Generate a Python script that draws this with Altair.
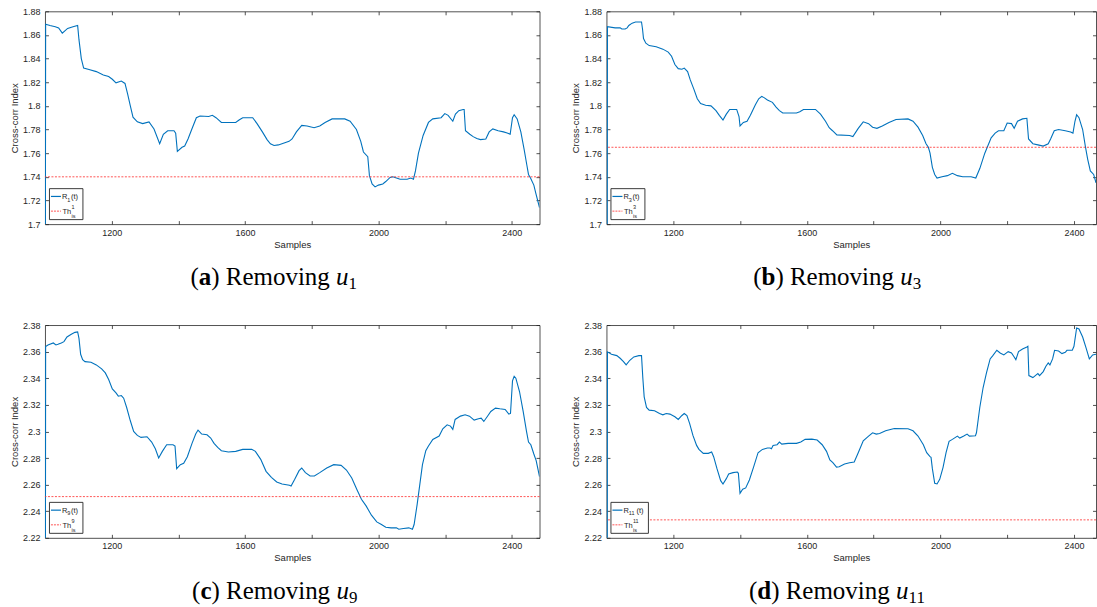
import altair as alt
import pandas as pd

# ---------------- data ----------------
X_LABELS = [1200, 1600, 2000, 2400]
X_TICKS = [1200, 1400, 1600, 1800, 2000, 2200, 2400]
Y_TICKS_TOP = [1.70, 1.72, 1.74, 1.76, 1.78, 1.80, 1.82, 1.84, 1.86, 1.88]
Y_TICKS_BOT = [2.22, 2.24, 2.26, 2.28, 2.30, 2.32, 2.34, 2.36, 2.38]

# (a) removing u1
X_A = [1001, 1002, 1015, 1031, 1041, 1052, 1068, 1084, 1098, 1102,
       1109, 1116, 1132, 1154, 1175, 1191, 1202, 1213, 1229, 1240,
       1248, 1256, 1264, 1277, 1293, 1312, 1327, 1344, 1355, 1368,
       1387, 1392, 1397, 1411, 1419, 1429, 1440, 1454, 1465, 1491,
       1502, 1513, 1529, 1572, 1582, 1593, 1623, 1636, 1652, 1666,
       1676, 1687, 1700, 1732, 1741, 1754, 1770, 1786, 1807, 1824,
       1840, 1861, 1899, 1915, 1934, 1947, 1955, 1968, 1973, 1981,
       1990, 2000, 2013, 2022, 2035, 2043, 2054, 2065, 2086, 2097,
       2105, 2111, 2120, 2134, 2150, 2163, 2188, 2199, 2209, 2223,
       2231, 2241, 2254, 2257, 2261, 2274, 2284, 2295, 2306, 2322,
       2332, 2343, 2359, 2375, 2386, 2395, 2402, 2407, 2416, 2427,
       2437, 2445, 2450, 2456, 2466, 2472, 2483]
Y_A = [1.60, 1.869, 1.868, 1.867, 1.866, 1.8615, 1.8655, 1.867, 1.868, 1.856,
       1.840, 1.832, 1.8308, 1.829, 1.8262, 1.8248, 1.8225, 1.8195, 1.821, 1.819,
       1.810, 1.800, 1.7905, 1.7865, 1.785, 1.7865, 1.7805, 1.768, 1.776, 1.779,
       1.779, 1.777, 1.7615, 1.765, 1.766, 1.772, 1.780, 1.790, 1.7915, 1.791,
       1.792, 1.790, 1.786, 1.786, 1.788, 1.790, 1.790, 1.785, 1.778, 1.7715,
       1.768, 1.7665, 1.767, 1.770, 1.772, 1.778, 1.7835, 1.783, 1.7815, 1.783,
       1.786, 1.789, 1.789, 1.787, 1.780, 1.770, 1.761, 1.757, 1.741, 1.734,
       1.7315, 1.733, 1.734, 1.736, 1.7395, 1.740, 1.739, 1.738, 1.738, 1.739,
       1.738, 1.745, 1.760, 1.775, 1.786, 1.789, 1.790, 1.7935, 1.792, 1.787,
       1.793, 1.796, 1.797, 1.797, 1.779, 1.776, 1.774, 1.7725, 1.7715, 1.772,
       1.778, 1.7805, 1.779, 1.778, 1.777, 1.776, 1.790, 1.7925, 1.789, 1.778,
       1.763, 1.750, 1.742, 1.739, 1.733, 1.726, 1.714]
TH_A = 1.740

# (b) removing u3
X_B = [1002, 1003, 1026, 1041, 1046, 1056, 1062, 1067, 1077, 1087,
       1105, 1108, 1111, 1118, 1128, 1149, 1169, 1185, 1195, 1205,
       1215, 1226, 1233, 1243, 1251, 1262, 1272, 1282, 1297, 1313,
       1328, 1338, 1349, 1359, 1369, 1390, 1397, 1400, 1410, 1421,
       1431, 1446, 1456, 1465, 1472, 1482, 1497, 1508, 1518, 1528,
       1569, 1579, 1590, 1626, 1641, 1656, 1667, 1677, 1690, 1728,
       1738, 1754, 1769, 1785, 1797, 1810, 1826, 1846, 1867, 1903,
       1918, 1933, 1947, 1957, 1964, 1969, 1976, 1983, 1990, 2005,
       2021, 2036, 2051, 2067, 2092, 2106, 2118, 2133, 2152, 2164,
       2174, 2190, 2200, 2213, 2221, 2231, 2246, 2259, 2264, 2277,
       2292, 2308, 2323, 2330, 2341, 2354, 2374, 2390, 2397, 2403,
       2408, 2415, 2426, 2434, 2441, 2449, 2459, 2466]
Y_B = [1.60, 1.867, 1.866, 1.866, 1.865, 1.865, 1.866, 1.868, 1.870, 1.871,
       1.871, 1.865, 1.857, 1.853, 1.851, 1.850, 1.848, 1.8455, 1.842, 1.835,
       1.8315, 1.831, 1.832, 1.829, 1.822, 1.814, 1.806, 1.802, 1.8005, 1.800,
       1.796, 1.792, 1.788, 1.793, 1.797, 1.797, 1.791, 1.783, 1.786, 1.787,
       1.792, 1.801, 1.806, 1.808, 1.807, 1.805, 1.803, 1.799, 1.796, 1.794,
       1.794, 1.795, 1.797, 1.797, 1.793, 1.787, 1.7815, 1.779, 1.7755, 1.775,
       1.774, 1.781, 1.7865, 1.785, 1.782, 1.781, 1.783, 1.786, 1.7885, 1.789,
       1.787, 1.782, 1.775, 1.768, 1.765, 1.760, 1.748, 1.742, 1.739, 1.740,
       1.741, 1.743, 1.741, 1.740, 1.740, 1.739, 1.747, 1.760, 1.773, 1.777,
       1.779, 1.779, 1.7855, 1.785, 1.781, 1.787, 1.789, 1.7895, 1.772, 1.768,
       1.767, 1.766, 1.768, 1.772, 1.779, 1.780, 1.779, 1.778, 1.777, 1.787,
       1.7925, 1.790, 1.780, 1.766, 1.755, 1.745, 1.742, 1.735]
TH_B = 1.765

# (c) removing u9
X_C = [1001, 1002, 1009, 1025, 1033, 1039, 1049, 1057, 1066, 1079,
       1090, 1098, 1102, 1107, 1113, 1120, 1138, 1154, 1170, 1181,
       1191, 1202, 1213, 1220, 1229, 1236, 1245, 1256, 1266, 1277,
       1288, 1306, 1320, 1331, 1341, 1352, 1365, 1384, 1390, 1395,
       1406, 1416, 1427, 1441, 1452, 1459, 1470, 1486, 1497, 1507,
       1518, 1529, 1550, 1572, 1593, 1620, 1631, 1647, 1663, 1679,
       1695, 1711, 1733, 1738, 1749, 1762, 1770, 1781, 1795, 1808,
       1824, 1845, 1866, 1888, 1904, 1920, 1936, 1949, 1963, 1979,
       1995, 2009, 2022, 2038, 2054, 2061, 2075, 2091, 2102, 2107,
       2116, 2124, 2132, 2142, 2150, 2163, 2182, 2193, 2206, 2216,
       2223, 2230, 2246, 2260, 2273, 2287, 2300, 2308, 2316, 2326,
       2337, 2351, 2364, 2380, 2391, 2396, 2402, 2407, 2412, 2423,
       2434, 2444, 2450, 2457, 2466, 2473, 2483]
Y_C = [2.10, 2.3638, 2.365, 2.3665, 2.365, 2.3655, 2.3665, 2.3675, 2.371, 2.373,
       2.3745, 2.3748, 2.370, 2.358, 2.354, 2.3525, 2.352, 2.350, 2.347, 2.344,
       2.339, 2.332, 2.329, 2.3265, 2.327, 2.325, 2.318, 2.308, 2.300, 2.297,
       2.2955, 2.296, 2.292, 2.287, 2.280, 2.285, 2.290, 2.290, 2.289, 2.272,
       2.275, 2.276, 2.281, 2.291, 2.298, 2.301, 2.298, 2.2975, 2.295, 2.291,
       2.288, 2.2855, 2.2845, 2.285, 2.2865, 2.2865, 2.285, 2.279, 2.270, 2.2655,
       2.262, 2.2605, 2.2595, 2.259, 2.264, 2.2705, 2.2725, 2.269, 2.2665, 2.2665,
       2.269, 2.2725, 2.275, 2.2745, 2.271, 2.265, 2.256, 2.249, 2.244, 2.237,
       2.232, 2.230, 2.228, 2.2275, 2.2275, 2.2265, 2.227, 2.2275, 2.2265, 2.230,
       2.245, 2.260, 2.275, 2.2855, 2.289, 2.294, 2.2965, 2.302, 2.305, 2.304,
       2.3015, 2.309, 2.3115, 2.3125, 2.3115, 2.3085, 2.3095, 2.310, 2.3075, 2.311,
       2.315, 2.3175, 2.317, 2.3165, 2.313, 2.3135, 2.338, 2.3415, 2.340, 2.330,
       2.315, 2.300, 2.292, 2.290, 2.283, 2.278, 2.266]
TH_C = 2.251

# (d) removing u11
X_D = [1002, 1003, 1015, 1031, 1041, 1051, 1059, 1070, 1082, 1097,
       1105, 1109, 1113, 1120, 1128, 1144, 1159, 1169, 1179, 1190,
       1205, 1215, 1226, 1233, 1241, 1249, 1259, 1270, 1277, 1290,
       1305, 1315, 1321, 1331, 1342, 1349, 1359, 1366, 1379, 1392,
       1395, 1400, 1408, 1417, 1428, 1441, 1454, 1467, 1482, 1490,
       1494, 1499, 1511, 1518, 1525, 1544, 1569, 1582, 1595, 1615,
       1631, 1646, 1659, 1669, 1678, 1689, 1697, 1713, 1728, 1742,
       1754, 1769, 1785, 1797, 1808, 1818, 1836, 1862, 1903, 1918,
       1933, 1949, 1959, 1969, 1972, 1976, 1983, 1990, 1998, 2008,
       2017, 2026, 2036, 2051, 2058, 2070, 2080, 2087, 2105, 2108,
       2118, 2128, 2138, 2149, 2157, 2169, 2179, 2190, 2203, 2213,
       2221, 2226, 2234, 2246, 2259, 2262, 2265, 2277, 2287, 2292,
       2297, 2308, 2316, 2323, 2328, 2336, 2342, 2354, 2364, 2374,
       2379, 2395, 2400, 2408, 2415, 2426, 2436, 2446, 2456, 2466]
Y_D = [2.10, 2.3598, 2.358, 2.357, 2.355, 2.3525, 2.350, 2.3535, 2.356, 2.357,
       2.357, 2.340, 2.326, 2.318, 2.316, 2.3155, 2.3135, 2.3125, 2.3135, 2.313,
       2.311, 2.309, 2.312, 2.3135, 2.312, 2.306, 2.297, 2.2895, 2.2865, 2.2835,
       2.2835, 2.2845, 2.281, 2.272, 2.263, 2.2605, 2.2645, 2.268, 2.269, 2.2695,
       2.2685, 2.2535, 2.2565, 2.2575, 2.2635, 2.2735, 2.284, 2.2865, 2.2875, 2.2875,
       2.287, 2.2895, 2.290, 2.292, 2.2905, 2.291, 2.291, 2.292, 2.294, 2.2942,
       2.2935, 2.290, 2.285, 2.2785, 2.2765, 2.2732, 2.2735, 2.2755, 2.2765, 2.277,
       2.284, 2.293, 2.2965, 2.299, 2.298, 2.2985, 2.3005, 2.3022, 2.302, 2.3005,
       2.2965, 2.290, 2.284, 2.281, 2.2805, 2.272, 2.261, 2.2605, 2.264, 2.273,
       2.284, 2.2925, 2.294, 2.2965, 2.295, 2.2965, 2.298, 2.2965, 2.2968, 2.299,
       2.318, 2.333, 2.344, 2.3545, 2.357, 2.361, 2.359, 2.3575, 2.360, 2.359,
       2.356, 2.354, 2.360, 2.362, 2.3635, 2.364, 2.342, 2.3405, 2.3425, 2.3435,
       2.342, 2.345, 2.349, 2.3515, 2.350, 2.3545, 2.361, 2.3605, 2.3585, 2.3595,
       2.361, 2.361, 2.364, 2.3778, 2.377, 2.371, 2.363, 2.3545, 2.3575, 2.358]
TH_D = 2.2335

# ---------------- styling ----------------
FONT = "Liberation Sans"
SERIF = "Liberation Serif"
BLUE = "#0072BD"
RED = "#FF2A2A"
AX = "#262626"
PANEL_H = 213
W_LEFT = 495
W_RIGHT = 490

BOLD_W = {"a": 0.5, "b": 0.556, "c": 0.444, "d": 0.556}
ONE = pd.DataFrame({"k": [0]})


def text_layer(s, x, y, size, font=FONT, color=AX, **kw):
    return alt.Chart(ONE).mark_text(
        text=s, align="left", baseline="alphabetic", font=font,
        fontSize=size, color=color, **kw
    ).encode(x=alt.value(x), y=alt.value(y))


def caption(letter, sub, cx, base):
    fs, fss = 25, 17
    w_open = 0.333 * fs
    w_let = BOLD_W[letter] * fs
    w_mid = 5.0 * fs  # ") Removing "
    w_u = 0.5 * fs
    w_sub = 0.5 * fss * len(sub)
    total = w_open + w_let + w_mid + w_u + w_sub
    x0 = cx - total / 2
    out = [
        text_layer("(", x0, base, fs, font=SERIF, color="black"),
        text_layer(letter, x0 + w_open, base, fs, font=SERIF, color="black", fontWeight="bold"),
        text_layer(") Removing", x0 + w_open + w_let, base, fs, font=SERIF, color="black"),
        text_layer("u", x0 + w_open + w_let + w_mid, base, fs, font=SERIF, color="black", fontStyle="italic"),
        text_layer(sub, x0 + w_open + w_let + w_mid + w_u, base + 4, fss, font=SERIF, color="black"),
    ]
    return out


def legend(sub, box_right):
    fs, fss = 7.5, 5.5
    box = alt.Chart(ONE).mark_rect(fill="white", stroke=AX, strokeWidth=0.9).encode(
        x=alt.value(4.5), x2=alt.value(box_right), y=alt.value(177.5), y2=alt.value(208.5))
    l1 = alt.Chart(ONE).mark_rule(color=BLUE, strokeWidth=1.2).encode(
        x=alt.value(6), x2=alt.value(16), y=alt.value(185.3))
    l2 = alt.Chart(ONE).mark_rule(color=RED, strokeWidth=0.8, strokeDash=[2, 1]).encode(
        x=alt.value(6), x2=alt.value(16), y=alt.value(200))
    sub_w = 0.556 * fss * len(sub)
    r_x = 17
    sub_x = r_x + 0.722 * fs
    t_x = sub_x + sub_w + (1.5 if len(sub) > 1 else 0.5)
    th_x = 17.5
    ss_x = th_x + 1.167 * fs + 0.3
    items = [
        box, l1, l2,
        text_layer("R", r_x, 188, fs),
        text_layer(sub, sub_x, 190.5, fss),
        text_layer("(t)", t_x, 188, fs),
        text_layer("Th", th_x, 203, fs),
        text_layer(sub, ss_x, 198.3, fss),
        text_layer("is", ss_x, 206.8, fss),
    ]
    return items


def panel(xs, ys, thr, xdom, ydom, yticks, width, sub, letter, cap_cx, box_right, right_border):
    H = PANEL_H
    n = min(len(xs), len(ys))
    df = pd.DataFrame({"x": xs[:n], "y": ys[:n]})
    sx = alt.Scale(domain=xdom, nice=False, zero=False)
    sy = alt.Scale(domain=ydom, nice=False, zero=False)

    main = alt.Chart(df).mark_line(color=BLUE, strokeWidth=1.1, clip=True).encode(
        x=alt.X("x:Q", scale=sx, axis=alt.Axis(
            orient="bottom", title="Samples", values=X_LABELS, format="d", ticks=False, tickSize=0,
            labelPadding=4, titlePadding=2, labelFlush=False, grid=False)),
        y=alt.Y("y:Q", scale=sy, axis=alt.Axis(
            orient="left", title="Cross-corr Index", values=yticks, format=".2~f",
            ticks=False, tickSize=0, labelPadding=5, titlePadding=3, grid=False)),
    )
    rule = alt.Chart(pd.DataFrame({"t": [thr]})).mark_rule(
        color=RED, strokeWidth=0.8, strokeDash=[2, 1.5]
    ).encode(y=alt.Y("t:Q", scale=sy, axis=None))

    # inward ticks on bottom / left edges
    tk1 = alt.Chart(df).mark_line(opacity=0).encode(
        x=alt.X("x:Q", scale=sx, axis=alt.Axis(
            orient="top", offset=-H, values=X_TICKS, labels=False, domain=False,
            tickSize=3.5, title=None, grid=False)),
        y=alt.Y("y:Q", scale=sy, axis=alt.Axis(
            orient="right", offset=-width, values=yticks, labels=False, domain=False,
            tickSize=3.5, title=None, grid=False)),
    )
    # top and right borders with inward ticks
    tk2 = alt.Chart(df).mark_line(opacity=0).encode(
        x=alt.X("x:Q", scale=sx, axis=alt.Axis(
            orient="bottom", offset=-H, values=X_TICKS, labels=False, domain=True,
            tickSize=3.5, title=None, grid=False)),
        y=alt.Y("y:Q", scale=sy, axis=alt.Axis(
            orient="left", offset=-width, values=yticks, labels=False, domain=right_border,
            tickSize=3.5, title=None, grid=False)),
    )
    layers = [main, rule, tk1, tk2] + legend(sub, box_right) + caption(letter, sub, cap_cx, 274)
    return alt.layer(*layers).resolve_axis(x="independent", y="independent").properties(
        width=width, height=H)


pa = panel(X_A, Y_A, TH_A, [1000, 2483], [1.70, 1.88], Y_TICKS_TOP, W_LEFT, "1", "a", 229, 38, True)
pb = panel(X_B, Y_B, TH_B, [1000, 2466], [1.70, 1.88], Y_TICKS_TOP, W_RIGHT, "3", "b", 231, 38.5, True)
pc = panel(X_C, Y_C, TH_C, [1000, 2483], [2.22, 2.38], Y_TICKS_BOT, W_LEFT, "9", "c", 230, 38, True)
pd_ = panel(X_D, Y_D, TH_D, [1000, 2466], [2.22, 2.38], Y_TICKS_BOT, W_RIGHT, "11", "d", 231, 42, True)

chart = alt.concat(
    pa, pb, pc, pd_, columns=2, spacing={"row": 101, "column": 67}, bounds="flush"
).properties(
    padding={"left": 9, "top": 7, "right": 0, "bottom": 0}, background="white"
).configure_view(stroke=None).configure_axis(
    labelFont=FONT, labelFontSize=9, labelColor=AX,
    titleFont=FONT, titleFontSize=9.5, titleFontWeight="normal", titleColor=AX,
    domainColor=AX, domainWidth=0.8, tickColor=AX, tickWidth=0.8, grid=False,
)

chart.save("out.html", embed_options={"renderer": "svg", "actions": False})
